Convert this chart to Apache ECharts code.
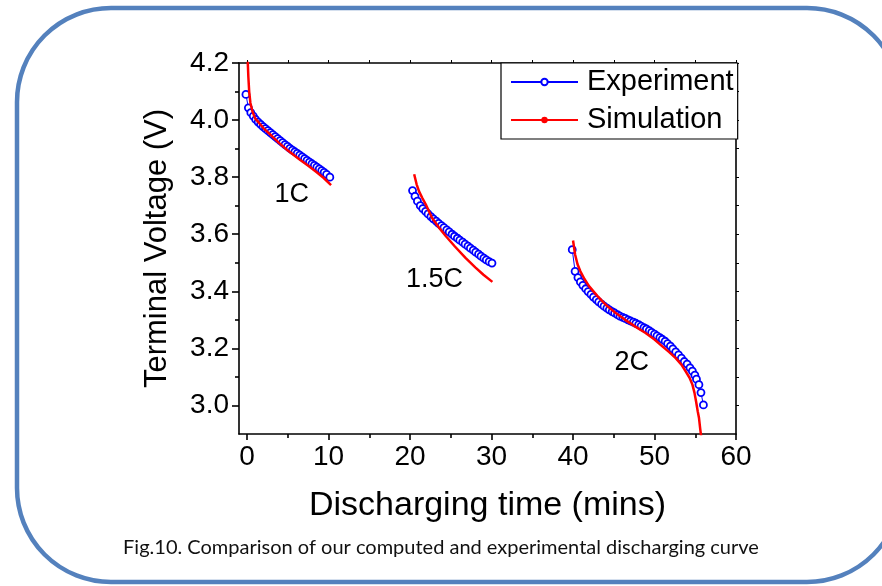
<!DOCTYPE html>
<html>
<head>
<meta charset="utf-8">
<script src="https://cdn.jsdelivr.net/npm/echarts@6/dist/echarts.min.js"></script>
<style>
html,body{margin:0;padding:0;background:#fff;}
#chart{width:882px;height:586px;}
</style>
</head>
<body>
<div id="chart"></div>
<script>
// ---------- data ----------
var xTicks = [0, 10, 20, 30, 40, 50, 60];
var xMinorTicks = [5, 15, 25, 35, 45, 55];
var yTicks = [3.0, 3.2, 3.4, 3.6, 3.8, 4.0, 4.2];
var yMinorTicks = [3.1, 3.3, 3.5, 3.7, 3.9, 4.1];

var exp1C = [
  [-0.15,4.090],[0.15,4.043],[0.45,4.026],[0.75,4.014],[1.05,4.002],[1.35,3.993],
  [1.65,3.985],[1.95,3.977],[2.25,3.970],[2.55,3.963],[2.85,3.956],[3.15,3.949],
  [3.45,3.942],[3.75,3.935],[4.05,3.928],[4.35,3.921],[4.65,3.914],[4.95,3.908],
  [5.25,3.901],[5.55,3.895],[5.85,3.889],[6.15,3.883],[6.45,3.877],[6.75,3.871],
  [7.05,3.865],[7.35,3.859],[7.65,3.853],[7.95,3.847],[8.25,3.841],[8.55,3.835],
  [8.85,3.829],[9.15,3.823],[9.45,3.817],[9.75,3.810],[10.15,3.800]
];
var exp15C = [
  [20.30,3.753],[20.60,3.733],[20.90,3.716],[21.25,3.700],[21.55,3.690],[21.90,3.680],
  [22.20,3.671],[22.55,3.662],[22.85,3.654],[23.20,3.646],[23.50,3.638],[23.85,3.630],
  [24.15,3.623],[24.50,3.615],[24.80,3.608],[25.15,3.600],[25.45,3.593],[25.80,3.586],
  [26.10,3.579],[26.45,3.572],[26.75,3.565],[27.10,3.558],[27.40,3.551],[27.75,3.544],
  [28.05,3.537],[28.40,3.530],[28.70,3.523],[29.05,3.516],[29.35,3.510],[29.70,3.504],
  [30.05,3.499]
];
var exp2C = [
  [39.90,3.546],[40.25,3.470],[40.60,3.448],[40.90,3.433],[41.20,3.421],[41.55,3.409],
  [41.85,3.399],[42.20,3.389],[42.50,3.380],[42.85,3.371],[43.15,3.363],[43.50,3.355],
  [43.80,3.348],[44.15,3.341],[44.45,3.335],[44.80,3.329],[45.10,3.324],[45.45,3.318],
  [45.75,3.313],[46.10,3.309],[46.40,3.305],[46.75,3.300],[47.05,3.296],[47.40,3.292],
  [47.70,3.288],[48.05,3.283],[48.35,3.278],[48.70,3.273],[49.00,3.268],[49.35,3.262],
  [49.65,3.256],[50.00,3.250],[50.30,3.244],[50.65,3.238],[50.95,3.232],[51.30,3.225],
  [51.60,3.217],[51.95,3.208],[52.25,3.198],[52.60,3.188],[52.95,3.177],[53.30,3.166],
  [53.65,3.154],[54.00,3.145],[54.35,3.132],[54.65,3.120],[54.95,3.106],[55.15,3.092],
  [55.45,3.073],[55.70,3.045],[56.00,3.002]
];
var sim1C = [
  [0.02,4.260],[0.08,4.200],[0.15,4.150],[0.25,4.100],[0.40,4.060],[0.65,4.030],
  [1.00,4.005],[1.47,3.990],[2.00,3.972],[3.00,3.945],[3.90,3.920],[5.00,3.893],
  [6.40,3.863],[7.50,3.840],[8.50,3.818],[9.40,3.797],[10.30,3.772]
];
var sim15C = [
  [20.50,3.810],[20.80,3.775],[21.10,3.750],[21.50,3.727],[22.00,3.700],[22.70,3.657],
  [23.50,3.625],[24.40,3.593],[25.50,3.557],[26.80,3.517],[28.00,3.484],[29.00,3.458],
  [30.10,3.433]
];
var sim2C = [
  [40.00,3.578],[40.25,3.529],[40.55,3.495],[40.90,3.470],[41.40,3.443],[41.96,3.418],
  [43.00,3.383],[44.00,3.353],[45.20,3.325],[46.40,3.300],[47.60,3.277],[48.90,3.254],
  [50.00,3.231],[50.96,3.207],[51.80,3.187],[52.60,3.166],[53.30,3.143],[53.80,3.120],
  [54.30,3.097],[54.65,3.073],[54.90,3.045],[55.10,3.014],[55.30,2.980],[55.46,2.956],
  [55.60,2.920],[55.70,2.897],[55.75,2.880]
];
var rateLabels = [[5.46,3.74,'1C'],[23.0,3.44,'1.5C'],[47.2,3.15,'2C']];
var seriesNames = ['Experiment','Simulation'];
var xTitle = 'Discharging time (mins)';
var yTitle = 'Terminal Voltage (V)';
var caption = 'Fig.10. Comparison of our computed and experimental discharging curve';

// ---------- chart ----------
var FONT = '"Liberation Sans", Arial, sans-serif';
var chart = echarts.init(document.getElementById('chart'), null, {renderer:'canvas'});

function expSeries(d){
  return {
    name: seriesNames[0], type:'line', data:d, xAxisIndex:0, yAxisIndex:0,
    symbol:'circle', symbolSize:7, showSymbol:true,
    lineStyle:{color:'#0000ff', width:1},
    itemStyle:{color:'#ffffff', borderColor:'#0000ff', borderWidth:1.8},
    emphasis:{disabled:true}, animation:false, z:3
  };
}
function simSeries(d){
  return {
    name: seriesNames[1], type:'line', data:d, xAxisIndex:0, yAxisIndex:0,
    symbol:'circle', symbolSize:6, showSymbol:false,
    lineStyle:{color:'#ff0000', width:2.5},
    itemStyle:{color:'#ff0000'},
    emphasis:{disabled:true}, animation:false, z:4
  };
}

var axisLineStyle = {color:'#000', width:1.6};
var xMin = -1, xMax = 60, yMin = 2.9, yMax = 4.2;

var rightTicks = [];
for (var i = 0; i < yTicks.length; i++) { rightTicks.push(yTicks[i]); }
for (var j = 0; j < yMinorTicks.length; j++) { rightTicks.push(yMinorTicks[j]); }
var topTicks = xTicks.concat(xMinorTicks);

var option = {
  backgroundColor:'#ffffff',
  animation:false,
  textStyle:{fontFamily:FONT},
  grid:{left:239, right:146, top:63, bottom:152, containLabel:false},
  legend:{
    data:seriesNames, orient:'vertical', left:501, top:63,
    width:235, itemWidth:67, itemHeight:8, itemGap:6,
    padding:[3,4,3,9],
    borderColor:'#000', borderWidth:1.2, backgroundColor:'#fff',
    textStyle:{fontFamily:FONT, fontSize:29, color:'#000', lineHeight:32, padding:[0,0,0,4]},
    selectedMode:false
  },
  xAxis:[
    {type:'value', min:xMin, max:xMax, position:'bottom',
     axisLine:{show:true, onZero:false, lineStyle:axisLineStyle},
     axisTick:{show:true, customValues:xTicks, length:6, lineStyle:axisLineStyle},
     axisLabel:{show:true, customValues:xTicks, fontSize:28, color:'#000', margin:9, fontFamily:FONT},
     splitLine:{show:false},
     name:xTitle, nameLocation:'middle', nameGap:55,
     nameTextStyle:{fontSize:34, color:'#000', fontFamily:FONT}
    },
    {type:'value', min:xMin, max:xMax, position:'bottom',
     axisLine:{show:false, onZero:false},
     axisTick:{show:true, customValues:xMinorTicks, length:4, lineStyle:axisLineStyle},
     axisLabel:{show:false}, splitLine:{show:false}
    },
    {type:'value', min:xMin, max:xMax, position:'top',
     axisLine:{show:true, onZero:false, lineStyle:axisLineStyle},
     axisTick:{show:true, customValues:topTicks, length:3, lineStyle:{color:'#000', width:1}},
     axisLabel:{show:false}, splitLine:{show:false}
    }
  ],
  yAxis:[
    {type:'value', min:yMin, max:yMax, position:'left',
     axisLine:{show:true, onZero:false, lineStyle:axisLineStyle},
     axisTick:{show:true, customValues:yTicks, length:7, lineStyle:axisLineStyle},
     axisLabel:{show:true, customValues:yTicks, fontSize:28, color:'#000', margin:10, fontFamily:FONT,
       formatter:function(v){return Number(v).toFixed(1);}},
     splitLine:{show:false},
     name:yTitle, nameLocation:'middle', nameGap:66, nameRotate:90,
     nameTextStyle:{fontSize:31, color:'#000', fontFamily:FONT}
    },
    {type:'value', min:yMin, max:yMax, position:'left',
     axisLine:{show:false, onZero:false},
     axisTick:{show:true, customValues:yMinorTicks, length:4, lineStyle:axisLineStyle},
     axisLabel:{show:false}, splitLine:{show:false}
    },
    {type:'value', min:yMin, max:yMax, position:'right',
     axisLine:{show:true, onZero:false, lineStyle:axisLineStyle},
     axisTick:{show:true, customValues:rightTicks, length:3, lineStyle:{color:'#000', width:1}},
     axisLabel:{show:false}, splitLine:{show:false}
    }
  ],
  series:[
    expSeries(exp1C), expSeries(exp15C), expSeries(exp2C),
    simSeries(sim1C), simSeries(sim15C), simSeries(sim2C),
    {name:'labels', type:'scatter', data:rateLabels, xAxisIndex:0, yAxisIndex:0,
     symbolSize:1, itemStyle:{color:'#ffffff', opacity:1}, silent:true, z:5,
     emphasis:{disabled:true},
     label:{show:true, position:'inside', fontSize:27, color:'#000000', opacity:1,
       textBorderWidth:0, fontFamily:FONT,
       formatter:function(p){return p.value[2];}}}
  ],
  graphic:[
    {type:'rect', shape:{x:17, y:8, width:884, height:574, r:94},
     style:{fill:'none', stroke:'#5481bd', lineWidth:4.5}, silent:true, z:100},
    {type:'text', left:'center', top:538,
     style:{text:caption, font:'20px Lato, "Open Sans", sans-serif', fill:'#111'}, silent:true}
  ]
};
chart.setOption(option);
</script>
</body>
</html>
